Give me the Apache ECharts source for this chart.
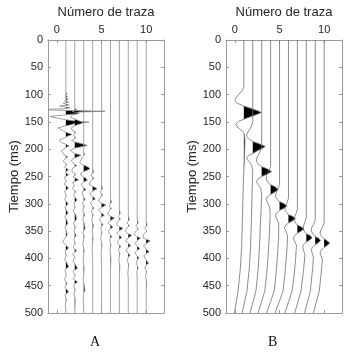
<!DOCTYPE html>
<html>
<head>
<meta charset="utf-8">
<script src="https://cdn.jsdelivr.net/npm/echarts@6/dist/echarts.min.js"></script>
<style>
  html, body { margin: 0; background: #fff; }
  #c { width: 358px; height: 352px; }
</style>
</head>
<body>
<div id="c"></div>
<script>
// Número de traza (columnas) y marcas del eje superior
const trazas = [1, 2, 3, 4, 5, 6, 7, 8, 9, 10];
const xTicks = [0, 5, 10];

// Panel A: cada traza es una lista de [tiempo ms, amplitud]
const trazaA1 = [[0,0],[96,0],[99,0.15],[101,-0.1],[104,0.2],[106,-0.1],[109,0.25],[111,-0.15],[114,0.3],[116,-0.3],[119,0.35],[121,-0.7],[124,0.5],[126,-0.3],[127.5,-3.5],[129,0],[130.5,4.4],[132,1.4],[135,1.2],[137,0],[140,-1.8],[143,-1.0],[146,0],[149,1.2],[150.5,2.6],[152,1.1],[155,0.6],[157,0],[161,-0.9],[166,-0.3],[169,0],[173,0.7],[176,0.2],[178,0],[183,-0.7],[188,-0.5],[191,0],[194,0.35],[197,0],[203,-0.5],[210,-0.2],[214,0.2],[218,-0.1],[222,-0.3],[228,0.1],[233,-0.15],[238,0.3],[242,-0.1],[247,0.3],[252,-0.2],[258,0.05],[264,-0.2],[271,0.3],[277,-0.15],[285,0.05],[292,-0.15],[300,0.25],[306,-0.1],[312,0.05],[317,0.25],[323,-0.1],[330,0.1],[336,0.2],[343,-0.1],[350,0.05],[357,0.15],[364,-0.15],[370,-0.35],[376,0],[381,0.3],[387,-0.1],[395,0.05],[402,-0.15],[408,0.1],[415,0.3],[421,-0.1],[430,0.05],[438,-0.15],[446,0.1],[453,-0.1],[461,0.3],[467,-0.1],[475,0.05],[485,-0.05],[500,0]];
const trazaA2 = [[0,0],[125,0],[128,0.2],[131,-0.3],[134,0.5],[137,-0.2],[141,-0.5],[145,0],[149,0.6],[152,0.9],[155,0.3],[157,0],[161,-0.4],[165,-0.3],[169,0.1],[174,-0.15],[179,0.1],[184,-0.35],[187,0],[190,0.8],[193,1.4],[196,0.6],[198,0],[202,-0.5],[206,-0.2],[208,0],[211,0.7],[214,0.3],[216,0],[220,-0.4],[225,-0.2],[230,0.2],[234,-0.2],[240,-0.35],[246,0.1],[251,-0.2],[256,0.45],[261,-0.25],[266,-0.05],[272,-0.25],[278,0.1],[284,-0.15],[293,0.25],[299,-0.1],[306,0.05],[313,-0.2],[320,0.1],[328,0.2],[335,-0.15],[343,0.05],[350,-0.1],[358,0.15],[365,-0.1],[372,0.05],[380,-0.2],[386,0.2],[392,-0.25],[398,0.05],[404,-0.2],[411,0.05],[418,0.3],[424,-0.2],[431,0.05],[437,-0.2],[443,0.3],[449,-0.15],[457,0.05],[465,-0.1],[475,0.05],[500,0]];
const trazaA3 = [[0,0],[205,0],[210,0.1],[215,-0.15],[220,-0.3],[225,-0.45],[229,0],[233,0.5],[236,0.7],[239,0.3],[241,0],[245,-0.4],[249,-0.2],[251,0],[254,0.3],[257,0.4],[260,0],[264,-0.3],[269,-0.1],[274,0.25],[278,-0.15],[285,-0.1],[292,0.15],[298,-0.15],[305,0.05],[313,-0.1],[320,0.1],[328,-0.1],[336,0.05],[345,0.15],[352,-0.1],[360,0.05],[372,-0.1],[385,0.05],[400,-0.05],[420,0.05],[440,-0.05],[458,0.15],[465,-0.05],[500,0]];
const trazaA4 = [[0,0],[235,0],[242,0.1],[248,-0.2],[253,0.15],[258,-0.2],[264,-0.4],[268,0],[272,0.5],[275,0.2],[277,0],[281,-0.35],[285,-0.1],[288,0.1],[291,0.3],[294,0],[298,-0.25],[303,-0.1],[308,0.15],[313,-0.15],[320,0.05],[330,-0.1],[340,0.1],[350,-0.05],[365,0.05],[380,-0.05],[400,0],[500,0]];
const trazaA5 = [[0,0],[265,0],[272,0.1],[278,-0.15],[284,0.1],[290,-0.2],[295,-0.35],[299,0],[302,0.5],[305,0.2],[307,0],[311,-0.35],[315,-0.1],[318,0.1],[321,0.3],[324,0],[328,-0.25],[333,-0.1],[338,0.15],[344,-0.1],[352,0.05],[362,-0.1],[375,0.05],[390,-0.05],[410,0],[500,0]];
const trazaA6 = [[0,0],[290,0],[297,0.1],[303,-0.15],[309,0.1],[314,-0.2],[319,-0.35],[323,0],[326,0.45],[329,0.15],[331,0],[335,-0.3],[338,-0.1],[340,0.1],[343,0.25],[346,0],[350,-0.25],[355,-0.1],[360,0.15],[366,-0.1],[375,0.05],[385,-0.05],[400,0.05],[420,0],[500,0]];
const trazaA7 = [[0,0],[310,0],[317,0.1],[323,-0.1],[328,0.1],[334,-0.25],[339,-0.3],[342,0],[345,0.4],[348,0.1],[350,0],[354,-0.3],[357,-0.1],[359,0.1],[362,0.25],[365,0],[369,-0.25],[374,-0.1],[378,0.15],[384,-0.1],[392,0.05],[402,-0.05],[415,0.05],[430,0],[500,0]];
const trazaA8 = [[0,0],[322,0],[329,0.1],[335,-0.15],[340,0.1],[346,-0.25],[351,-0.3],[355,0],[358,0.4],[361,0.1],[363,0],[367,-0.3],[371,-0.1],[374,0.1],[377,0.25],[380,0],[384,-0.25],[389,-0.1],[394,0.2],[398,0],[404,-0.1],[412,0.05],[425,-0.05],[440,0],[500,0]];
const trazaA9 = [[0,0],[328,0],[335,0.1],[341,-0.15],[346,0.1],[352,-0.25],[357,-0.3],[360,0],[363,0.35],[366,0.1],[368,0],[372,-0.3],[376,-0.1],[379,0.1],[382,0.3],[385,0],[389,-0.25],[394,-0.1],[399,0.2],[403,0],[409,-0.1],[417,0.1],[425,-0.05],[440,0],[500,0]];
const trazaA10 = [[0,0],[332,0],[339,0.1],[345,-0.15],[350,0.1],[356,-0.3],[362,-0.35],[365,0],[368,0.45],[371,0.15],[373,0],[377,-0.3],[381,-0.1],[385,0.1],[388,0.35],[391,0],[395,-0.25],[400,-0.1],[405,0.1],[409,0.25],[412,0],[417,-0.15],[424,0.05],[432,-0.05],[445,0.05],[460,0],[500,0]];

// Panel B: ondícula suave con deriva hacia la izquierda al final
const trazaB1 = [[0,0],[85,0],[92,-0.15],[100,-0.6],[106,-0.9],[111,-1.0],[116,-0.7],[121,0],[126,0.9],[130,1.6],[133,1.95],[136,1.5],[140,0.8],[145,0],[149,-0.6],[154,-0.9],[159,-0.75],[165,-0.3],[172,0.05],[185,0.12],[220,0.05],[260,-0.05],[320,-0.15],[380,-0.25],[420,-0.4],[460,-0.65],[500,-1.05]];
const trazaB2 = [[0,0],[150,0],[158,-0.15],[166,-0.45],[172,-0.65],[177,-0.7],[182,-0.4],[186,0],[190,0.7],[195,1.4],[199,1.0],[203,0.5],[208,0],[212,-0.5],[216,-0.7],[221,-0.5],[228,-0.15],[240,0],[280,-0.08],[330,-0.15],[380,-0.25],[420,-0.4],[460,-0.65],[500,-1.2]];
const trazaB3 = [[0,0],[195,0],[205,-0.2],[214,-0.5],[222,-0.6],[228,-0.35],[232,0],[236,0.6],[241,1.1],[245,0.7],[250,0],[254,-0.4],[259,-0.6],[265,-0.4],[272,-0.1],[285,0],[330,-0.12],[380,-0.25],[420,-0.4],[460,-0.65],[500,-1.3]];
const trazaB4 = [[0,0],[232,0],[240,-0.2],[248,-0.45],[255,-0.5],[261,-0.3],[265,0],[269,0.5],[274,0.85],[278,0.5],[283,0],[287,-0.35],[292,-0.5],[298,-0.35],[305,-0.1],[320,-0.05],[360,-0.15],[400,-0.3],[430,-0.45],[460,-0.65],[500,-1.4]];
const trazaB5 = [[0,0],[265,0],[273,-0.2],[280,-0.4],[287,-0.45],[292,-0.25],[296,0],[300,0.5],[304,0.85],[308,0.5],[312,0],[317,-0.35],[322,-0.45],[328,-0.3],[335,-0.1],[360,-0.1],[400,-0.25],[430,-0.4],[460,-0.6],[500,-1.45]];
const trazaB6 = [[0,0],[290,0],[298,-0.15],[305,-0.35],[311,-0.4],[316,-0.2],[320,0],[323,0.45],[327,0.78],[331,0.45],[335,0],[339,-0.3],[344,-0.45],[350,-0.3],[358,-0.1],[380,-0.15],[420,-0.35],[460,-0.6],[500,-1.5]];
const trazaB7 = [[0,0],[310,0],[318,-0.15],[324,-0.3],[330,-0.35],[335,-0.2],[339,0],[342,0.4],[346,0.73],[350,0.4],[354,0],[358,-0.3],[363,-0.45],[369,-0.3],[376,-0.1],[400,-0.2],[430,-0.35],[460,-0.6],[500,-1.4]];
const trazaB8 = [[0,0],[325,0],[333,-0.15],[340,-0.3],[346,-0.35],[351,-0.2],[355,0],[358,0.4],[362,0.65],[366,0.4],[370,0],[375,-0.3],[380,-0.4],[386,-0.3],[393,-0.15],[420,-0.3],[460,-0.6],[500,-1.3]];
const trazaB9 = [[0,0],[330,0],[338,-0.2],[344,-0.4],[350,-0.45],[355,-0.25],[360,0],[363,0.35],[367,0.6],[371,0.35],[375,0],[379,-0.3],[384,-0.45],[390,-0.35],[398,-0.2],[420,-0.3],[460,-0.55],[500,-1.2]];
const trazaB10 = [[0,0],[335,0],[343,-0.2],[349,-0.4],[355,-0.45],[360,-0.25],[364,0],[368,0.35],[372,0.62],[376,0.35],[380,0],[384,-0.3],[389,-0.45],[395,-0.35],[403,-0.2],[430,-0.35],[460,-0.55],[500,-1.2]];

const trazasA = [trazaA1, trazaA2, trazaA3, trazaA4, trazaA5, trazaA6, trazaA7, trazaA8, trazaA9, trazaA10];
const trazasB = [trazaB1, trazaB2, trazaB3, trazaB4, trazaB5, trazaB6, trazaB7, trazaB8, trazaB9, trazaB10];

const FONT = 'Liberation Sans';
const TXT = '#262626';
const EJE = '#9a9a9a';

// traza de ondícula: línea + lóbulos positivos rellenos en negro
function wiggle(lista, color) {
  return function (params, api) {
    const k = api.value(0);
    const pts = lista[k - 1];
    const line = pts.map(function (p) { return api.coord([k + p[1], p[0]]); });
    const children = [];
    let lobe = null;
    for (let i = 0; i < pts.length; i++) {
      const t = pts[i][0], a = pts[i][1];
      if (i > 0) {
        const tp = pts[i - 1][0], ap = pts[i - 1][1];
        if ((ap > 0) !== (a > 0)) {
          const tc = tp + (t - tp) * ap / (ap - a);
          const pc = api.coord([k, tc]);
          if (a > 0) {
            lobe = [pc];
          } else if (lobe) {
            lobe.push(pc);
            children.push({ type: 'polygon', shape: { points: lobe }, style: { fill: '#000' } });
            lobe = null;
          }
        }
      }
      if (a > 0 && lobe) lobe.push(line[i]);
    }
    children.push({ type: 'polyline', shape: { points: line }, style: { stroke: color, lineWidth: 0.8, fill: null } });
    return { type: 'group', children: children };
  };
}

function ejeX(gi, top) {
  return {
    gridIndex: gi, type: 'value', position: top ? 'top' : 'bottom', min: -1, max: 12,
    name: top ? 'Número de traza' : '', nameLocation: 'middle', nameGap: 16,
    nameTextStyle: { fontSize: 13, color: TXT, fontFamily: FONT },
    axisLine: { onZero: false, lineStyle: { color: EJE, width: 1 } },
    axisTick: { inside: true, length: 3, customValues: xTicks, lineStyle: { color: EJE } },
    axisLabel: { show: top, customValues: xTicks, fontSize: 11, color: TXT, fontFamily: FONT, margin: 5 },
    splitLine: { show: false }
  };
}

function ejeY(gi, left) {
  return {
    gridIndex: gi, type: 'value', position: left ? 'left' : 'right', inverse: true,
    min: 0, max: 500, interval: 50,
    name: left ? 'Tiempo (ms)' : '', nameLocation: 'middle', nameGap: 26,
    nameTextStyle: { fontSize: 13, color: TXT, fontFamily: FONT },
    axisLine: { onZero: false, lineStyle: { color: EJE, width: 1 } },
    axisTick: { inside: true, length: 3, lineStyle: { color: EJE } },
    axisLabel: { show: left, fontSize: 11, color: TXT, fontFamily: FONT, margin: 5 },
    splitLine: { show: false }
  };
}

const chart = echarts.init(document.getElementById('c'));
chart.setOption({
  animation: false,
  grid: [
    { left: 48, top: 40, width: 116, height: 273 },
    { left: 226, top: 40, width: 116, height: 273 }
  ],
  xAxis: [ejeX(0, true), ejeX(0, false), ejeX(1, true), ejeX(1, false)],
  yAxis: [ejeY(0, true), ejeY(0, false), ejeY(1, true), ejeY(1, false)],
  series: [
    { type: 'custom', xAxisIndex: 0, yAxisIndex: 0, clip: true,
      data: trazas.map(function (k) { return [k, 0]; }), renderItem: wiggle(trazasA, '#8c8c8c') },
    { type: 'custom', xAxisIndex: 2, yAxisIndex: 2, clip: true,
      data: trazas.map(function (k) { return [k, 0]; }), renderItem: wiggle(trazasB, '#6e6e6e') }
  ],
  graphic: [
    { type: 'text', left: 90, top: 335, style: { text: 'A', fontSize: 14, fontFamily: 'Liberation Serif', fill: '#111' } },
    { type: 'text', left: 268, top: 335, style: { text: 'B', fontSize: 14, fontFamily: 'Liberation Serif', fill: '#111' } }
  ]
});
</script>
</body>
</html>
